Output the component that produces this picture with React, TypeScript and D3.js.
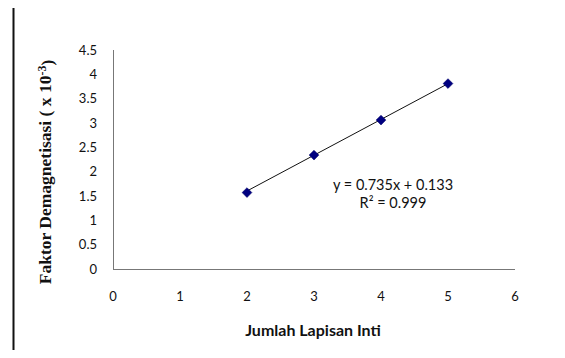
import React, { useRef, useEffect } from "react";
import * as d3 from "d3";

const LAYERS = [2, 3, 4, 5];
const FACTOR = [1.57, 2.34, 3.06, 3.81];
const X_TICKS = [0, 1, 2, 3, 4, 5, 6];
const Y_TICKS = [0, 0.5, 1, 1.5, 2, 2.5, 3, 3.5, 4, 4.5];
const SLOPE = 0.735;
const INTERCEPT = 0.133;

export default function App() {
  const svgRef = useRef<SVGSVGElement>(null);

  useEffect(() => {
    const width = 565;
    const height = 358;
    const svg = d3.select(svgRef.current).attr("width", width).attr("height", height);
    svg.selectAll("*").remove();

    const tickFont = "Lato, 'Open Sans', sans-serif";

    // frame (top + left only)
    svg.append("line").attr("x1", 13).attr("x2", width).attr("y1", 5.5).attr("y2", 5.5)
      .attr("stroke", "#111").attr("stroke-width", 2);
    svg.append("line").attr("x1", 13.5).attr("x2", 13.5).attr("y1", 5).attr("y2", height)
      .attr("stroke", "#111").attr("stroke-width", 2);

    const x = d3.scaleLinear().domain([0, 6]).range([113, 515]);
    const y = d3.scaleLinear().domain([0, 4.5]).range([269, 50]);

    // axes lines
    svg.append("line").attr("x1", x(0)).attr("x2", x(6)).attr("y1", y(0) + 0.5).attr("y2", y(0) + 0.5)
      .attr("stroke", "#777").attr("stroke-width", 1);
    svg.append("line").attr("x1", x(0) + 0.5).attr("x2", x(0) + 0.5).attr("y1", y(4.5)).attr("y2", y(0))
      .attr("stroke", "#777").attr("stroke-width", 1);

    svg.append("g").selectAll("text").data(Y_TICKS).enter().append("text")
      .attr("x", x(0) - 16).attr("y", (d) => y(d)).attr("dy", "0.35em")
      .attr("text-anchor", "end").style("font-family", tickFont).style("font-size", "13px")
      .attr("fill", "#111").text((d) => String(d));

    svg.append("g").selectAll("text").data(X_TICKS).enter().append("text")
      .attr("x", (d) => x(d)).attr("y", y(0) + 27).attr("dy", "0.35em")
      .attr("text-anchor", "middle").style("font-family", tickFont).style("font-size", "13px")
      .attr("fill", "#111").text((d) => String(d));

    // trendline
    const x0 = d3.min(LAYERS)!;
    const x1 = d3.max(LAYERS)!;
    svg.append("line")
      .attr("x1", x(x0)).attr("y1", y(SLOPE * x0 + INTERCEPT))
      .attr("x2", x(x1)).attr("y2", y(SLOPE * x1 + INTERCEPT))
      .attr("stroke", "#111").attr("stroke-width", 1);

    // points: square markers turned 45deg
    const marker = d3.symbol().type(d3.symbolSquare).size(48);
    svg.append("g").selectAll("path").data(LAYERS).enter().append("path")
      .attr("transform", (d, i) => `translate(${x(d)},${y(FACTOR[i])}) rotate(45)`)
      .attr("d", marker).attr("fill", "#000080").attr("stroke", "#000066").attr("stroke-width", 0.5);

    // equation
    svg.append("text").attr("x", 393).attr("y", 185).attr("dy", "0.35em").attr("text-anchor", "middle")
      .style("font-family", tickFont).style("font-size", "14.5px").attr("fill", "#111")
      .text(`y = ${SLOPE}x + ${INTERCEPT}`);
    svg.append("text").attr("x", 393).attr("y", 203).attr("dy", "0.35em").attr("text-anchor", "middle")
      .style("font-family", tickFont).style("font-size", "14.5px").attr("fill", "#111")
      .text("R² = 0.999");

    // x title
    svg.append("text").attr("x", 313).attr("y", 330).attr("dy", "0.35em").attr("text-anchor", "middle")
      .style("font-family", tickFont).style("font-size", "16px").style("font-weight", "bold")
      .attr("fill", "#111").text("Jumlah Lapisan Inti");

    // y title
    const yt = svg.append("text").attr("transform", "translate(51,172) rotate(-90)")
      .attr("text-anchor", "middle")
      .style("font-family", "'Liberation Serif', 'DejaVu Serif', serif")
      .style("font-size", "17.5px").style("font-weight", "bold").attr("fill", "#111");
    yt.append("tspan").text("Faktor Demagnetisasi ( x 10");
    yt.append("tspan").attr("dy", "-0.45em").style("font-size", "12px").text("-3");
    yt.append("tspan").attr("dy", "0.45em").text(")");
  }, []);

  return (
    <div style={{ margin: -8, width: 565, height: 358, background: "#fff" }}>
      <svg ref={svgRef} style={{ display: "block" }}></svg>
    </div>
  );
}
